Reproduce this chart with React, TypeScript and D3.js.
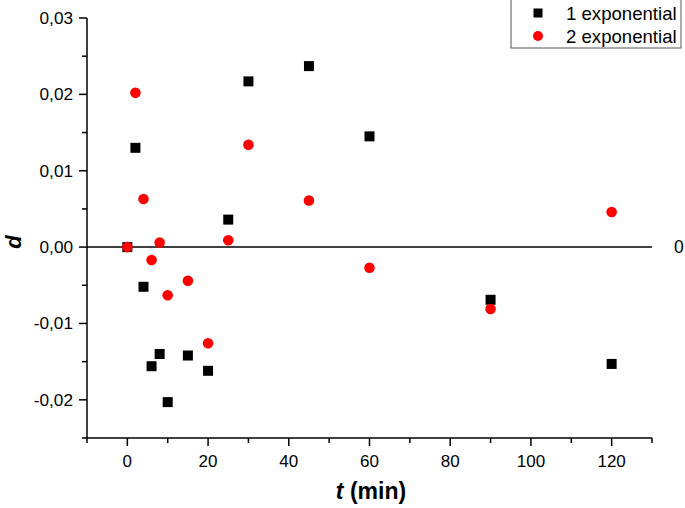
import React from "react";
import * as d3 from "d3";

const times = [0, 2, 4, 6, 8, 10, 15, 20, 25, 30, 45, 60, 90, 120];
const oneExp = [0, 0.013, -0.0052, -0.0156, -0.014, -0.0203, -0.0142, -0.0162, 0.0036, 0.0217, 0.0237, 0.0145, -0.0069, -0.0153];
const twoExp = [0, 0.0202, 0.0063, -0.0017, 0.0006, -0.0063, -0.0044, -0.0126, 0.0009, 0.0134, 0.0061, -0.0027, -0.0081, 0.0046];
const xMajorTicks = [0, 20, 40, 60, 80, 100, 120];
const xMinorTicks = [-10, 10, 30, 50, 70, 90, 110, 130];
const yMajorTicks = [-0.02, -0.01, 0, 0.01, 0.02, 0.03];
const yMinorTicks = [-0.025, -0.015, -0.005, 0.005, 0.015, 0.025];
const seriesNames = ["1 exponential", "2 exponential"];

const W = 685, H = 508;
const x = d3.scaleLinear().domain([-10, 130]).range([87, 652]);
const y = d3.scaleLinear().domain([-0.025, 0.03]).range([438, 18]);
const fmtY = (v: number) => (Math.abs(v) < 1e-9 ? "0,00" : d3.format(".2f")(v).replace(".", ",").replace("−", "-"));
const FONT = "Liberation Sans, Arial, sans-serif";

export default function App() {
  const sq = 10;
  const r = 5.3;
  return (
    <svg width={W} height={H} style={{ position: "absolute", left: 0, top: 0 }} fontFamily={FONT}>
      <rect width={W} height={H} fill="#fff" />
      {/* zero line */}
      <line x1={x(-10)} x2={x(130)} y1={y(0)} y2={y(0)} stroke="#000" strokeWidth={1.5} />
      <text x={674} y={y(0) + 6} fontSize={17.5} fill="#000">0</text>
      {/* axes */}
      <line x1={x(-10)} x2={x(-10)} y1={y(0.03)} y2={y(-0.025)} stroke="#000" strokeWidth={1.5} />
      <line x1={x(-10)} x2={x(130)} y1={y(-0.025)} y2={y(-0.025)} stroke="#000" strokeWidth={1.5} />
      {yMajorTicks.map((v) => (
        <g key={"ym" + v}>
          <line x1={x(-10) - 8} x2={x(-10)} y1={y(v)} y2={y(v)} stroke="#000" strokeWidth={1.5} />
          <text x={x(-10) - 14} y={y(v) + 6} fontSize={17.2} textAnchor="end" fill="#000">{fmtY(v)}</text>
        </g>
      ))}
      {yMinorTicks.map((v) => (
        <line key={"yn" + v} x1={x(-10) - 5} x2={x(-10)} y1={y(v)} y2={y(v)} stroke="#000" strokeWidth={1.5} />
      ))}
      {xMajorTicks.map((v) => (
        <g key={"xm" + v}>
          <line x1={x(v)} x2={x(v)} y1={y(-0.025)} y2={y(-0.025) + 8} stroke="#000" strokeWidth={1.5} />
          <text x={x(v)} y={y(-0.025) + 29} fontSize={17} textAnchor="middle" fill="#000">{v}</text>
        </g>
      ))}
      {xMinorTicks.map((v) => (
        <line key={"xn" + v} x1={x(v)} x2={x(v)} y1={y(-0.025)} y2={y(-0.025) + 5} stroke="#000" strokeWidth={1.5} />
      ))}
      {/* axis titles */}
      <text x={371} y={499} fontSize={23} fontWeight="bold" textAnchor="middle" fill="#000">
        <tspan fontStyle="italic">t</tspan> (min)
      </text>
      <text transform={`translate(21, 242) rotate(-90)`} fontSize={22} fontWeight="bold" fontStyle="italic" textAnchor="middle" fill="#000">d</text>
      {/* data */}
      {times.map((t, i) => (
        <rect key={"s" + i} x={x(t) - sq / 2} y={y(oneExp[i]) - sq / 2} width={sq} height={sq} fill="#000" />
      ))}
      {times.map((t, i) => (
        <circle key={"c" + i} cx={x(t)} cy={y(twoExp[i])} r={r} fill="#ff0000" />
      ))}
      {/* legend */}
      <rect x={511} y={-1} width={170} height={49} fill="#fff" stroke="#555" strokeWidth={1} />
      <rect x={538 - 4.5} y={13 - 4.5} width={9} height={9} fill="#000" />
      <circle cx={538} cy={36} r={5} fill="#ff0000" />
      <text x={566} y={20} fontSize={18.6} fill="#000">{seriesNames[0]}</text>
      <text x={566} y={43} fontSize={18.6} fill="#000">{seriesNames[1]}</text>
    </svg>
  );
}
